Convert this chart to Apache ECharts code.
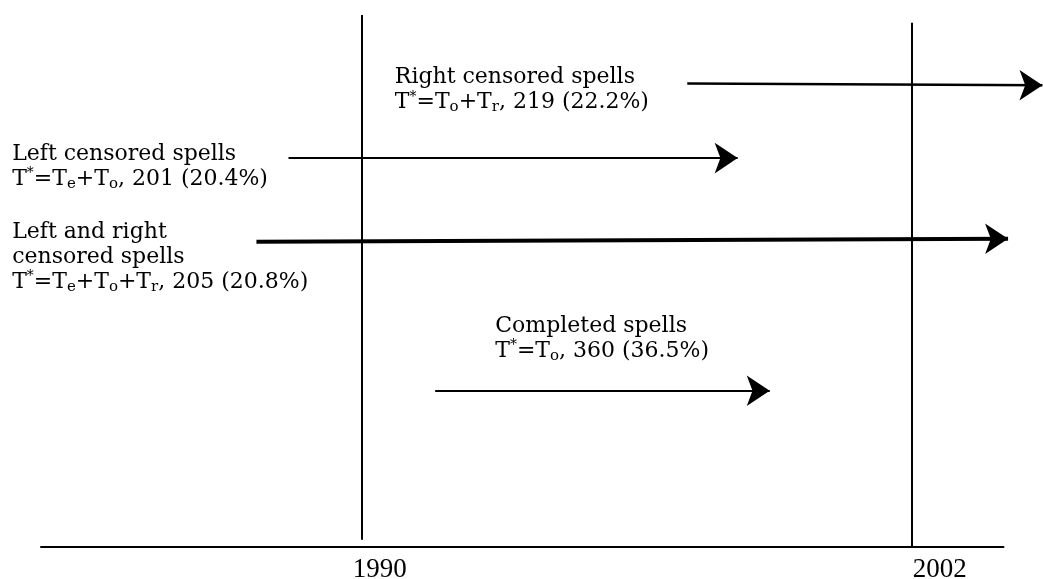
<!DOCTYPE html>
<html><head><meta charset="utf-8">
<script src="https://cdn.jsdelivr.net/npm/echarts@6/dist/echarts.min.js"></script>
<style>html,body{margin:0;padding:0;background:#fff}#c{width:1043px;height:579px}</style>
</head><body><div id="c"></div>
<script>
// ---- data ----
const yearTicks = [1990, 2002];
const boundaryYears = [1990, 2002];
const boundaryBottom = [1.2, 0];
const boundaryTop = [88.5, 87.2];
const spellTitles = ['Right censored spells', 'Left censored spells', 'Left and right\ncensored spells', 'Completed spells'];
const spellParts = [['o', 'r'], ['e', 'o'], ['e', 'o', 'r'], ['o']];
const spellCounts = [219, 201, 205, 360];
const spellShares = ['22.2', '20.4', '20.8', '36.5'];
const arrowFrom = [[1997.1, 77.1], [1988.4, 64.7], [1987.7, 50.8], [1991.6, 26.0]];
const arrowTo = [[2004.85, 76.8], [1998.2, 64.7], [2004.1, 51.3], [1998.9, 26.0]];
const labelAt = [[1990.72, 80.2], [1982.37, 67.45], [1982.37, 54.45], [1992.91, 38.8]];

// ---- styles ----
const arrowWidths = [2.5, 2, 4, 2];
const yearNudge = {1990: 36, 2002: 56};
const serif = 'DejaVu Serif';

const chart = echarts.init(document.getElementById('c'), null, {renderer: 'canvas'});
chart.setOption({
  animation: false,
  backgroundColor: '#fff',
  grid: {left: 41, right: 39.5, top: 6, bottom: 32, containLabel: false, outerBoundsMode: 'none'},
  xAxis: {
    type: 'value', min: 1983, max: 2004,
    axisLine: {show: true, onZero: false, lineStyle: {color: '#000', width: 2}},
    axisTick: {show: false},
    splitLine: {show: false},
    axisLabel: {
      customValues: yearTicks,
      margin: 9,
      formatter: v => '{y' + v + '|' + v + '}',
      rich: Object.fromEntries(yearTicks.map(v => ['y' + v, {
        fontFamily: 'Liberation Serif', fontSize: 27, color: '#000',
        padding: [0, 0, 0, yearNudge[v]]
      }]))
    }
  },
  yAxis: {type: 'value', min: 0, max: 90, show: false},
  series: [
    {
      type: 'lines', coordinateSystem: 'cartesian2d', silent: true, clip: false,
      symbol: 'none',
      lineStyle: {color: '#000', width: 2, opacity: 1},
      data: boundaryYears.map((y, i) => ({coords: [[y, boundaryBottom[i]], [y, boundaryTop[i]]]}))
    },
    {
      type: 'lines', coordinateSystem: 'cartesian2d', silent: true, clip: false,
      symbol: ['none', 'arrow'], symbolSize: [22, 23],
      lineStyle: {color: '#000', opacity: 1},
      itemStyle: {color: '#000'},
      data: arrowFrom.map((f, i) => ({coords: [f, arrowTo[i]], lineStyle: {width: arrowWidths[i], color: '#000'}}))
    },
    {
      type: 'scatter', silent: true, clip: false, symbolSize: 0,
      itemStyle: {opacity: 1},
      data: labelAt.map((p, i) => ({value: p})),
      label: {
        show: true, position: [0, 0], align: 'left', verticalAlign: 'top',
        fontFamily: serif, fontSize: 22, lineHeight: 25, color: '#000', opacity: 1,
        formatter: p => {
          const i = p.dataIndex;
          const f = '{t|T}{sup|*}{t|=}' + spellParts[i].map(s => '{t|T}{sub|' + s + '}').join('{t|+}') +
            '{t|, ' + spellCounts[i] + ' (' + spellShares[i] + '%)}';
          return spellTitles[i].split('\n').map(s => '{t|' + s + '}').join('\n') + '\n' + f;
        },
        rich: {
          t: {fontFamily: serif, fontSize: 22, lineHeight: 25, color: '#000'},
          sub: {fontFamily: serif, fontSize: 15, lineHeight: 15, verticalAlign: 'bottom', color: '#000'},
          sup: {fontFamily: serif, fontSize: 14, lineHeight: 14, verticalAlign: 'top', color: '#000'}
        }
      }
    }
  ]
});
</script></body></html>
